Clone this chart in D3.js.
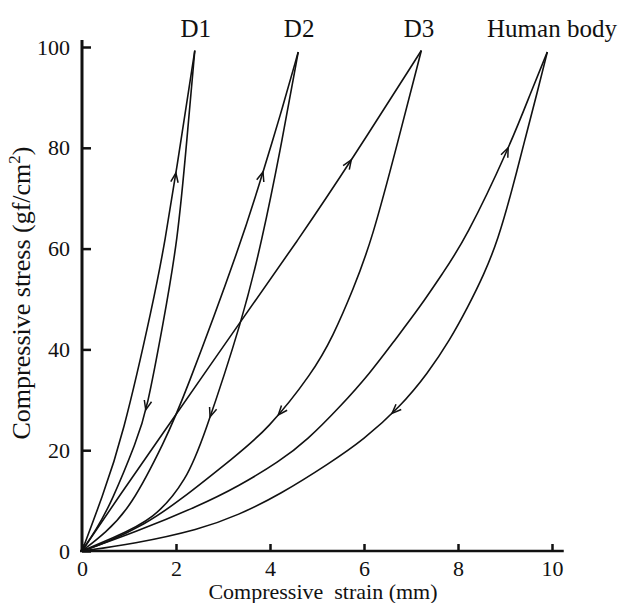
<!DOCTYPE html>
<html>
<head>
<meta charset="utf-8">
<script src="https://cdn.jsdelivr.net/npm/d3@7"></script>
<style>
  body { margin: 0; background: #fff; }
  text { font-family: "Liberation Serif", "DejaVu Serif", serif; fill: #111; }
</style>
</head>
<body>
<div id="chart"></div>
<script>
// strain (mm), stress (gf/cm2), each curve from origin to peak
var d1Load   = [[0,0],[0.43,10.7],[0.85,22],[1.53,49.8],[1.77,61.7],[2.0,75],[2.40,99.3]];
var d1Unload = [[0,0],[0.3,4.2],[0.62,9.5],[1.17,22],[1.38,28],[1.72,44.8],[2.04,61.7],[2.23,81.5],[2.40,99.3]];
var d2Load   = [[0,0],[0.5,3.6],[1.04,8.7],[1.77,22],[2.15,30],[3.41,61.7],[3.85,75.2],[4.21,86.1],[4.60,99]];
var d2Unload = [[0,0],[0.6,2.4],[1.55,6.3],[2.23,14.3],[2.57,22],[3.43,46.3],[3.83,61.7],[4.21,79],[4.60,99]];
var d3Load   = [[0,0],[0.8,11],[1.62,22],[3.43,46.3],[4.6,61.7],[5.74,77.6],[7.22,99.3]];
var d3Unload = [[0,0],[0.5,1.6],[1.34,5.3],[2.04,9.7],[3.26,18.8],[3.94,24],[4.91,35.4],[5.34,42.6],[5.77,51.9],[6.17,61.7],[6.73,81.5],[7.22,99.3]];
var humLoad  = [[0,0],[1.1,3.6],[2.5,9],[3.32,12.8],[4.21,17.8],[4.79,22],[5.49,28.6],[6.13,35.3],[6.66,41.9],[7.19,48.4],[7.68,55.2],[8.15,61.7],[9.09,80],[9.57,91.5],[9.9,99]];
var humUnload= [[0,0],[1.09,1.4],[2.51,4.3],[3.32,7.1],[4.21,11.2],[5.28,17.5],[5.98,22],[6.77,28.6],[7.36,35.3],[7.83,41.9],[8.21,48.4],[8.55,54.8],[8.85,61.7],[9.15,71.6],[9.42,81.5],[9.7,91.5],[9.9,99]];

var curves = [d1Load, d1Unload, d2Load, d2Unload, d3Load, d3Unload, humLoad, humUnload];
// stress where each arrow sits, +1 = towards peak, -1 = towards origin
var arrowAt  = [75, 28, 75.2, 26.6, 77.6, 27, 80, 27.3];
var arrowDir = [1, -1, 1, -1, 1, -1, 1, -1];

var labels = ["D1", "D2", "D3", "Human body"];
var labelX = [2.42, 4.62, 7.17, 10.0];

var xTicks = [0, 2, 4, 6, 8, 10];
var yTicks = [0, 20, 40, 60, 80, 100];

var width = 626, height = 603;

var svg = d3.select('#chart')
	.append('svg')
	.attr('width', width)
	.attr('height', height);

var x = d3.scaleLinear().domain([0, 10]).range([82, 552]);
var y = d3.scaleLinear().domain([0, 100]).range([551, 47]);

var line = d3.line()
	.x(function(d){ return x(d[0]); })
	.y(function(d){ return y(d[1]); })
	.curve(d3.curveBasis);

// axes, ticks pointing inward
var xAxis = svg.append('g')
	.attr('transform', 'translate(0,' + y(0) + ')')
	.call(d3.axisBottom(x).tickValues(xTicks).tickSizeInner(-7).tickSizeOuter(0).tickPadding(9));
var yAxis = svg.append('g')
	.attr('transform', 'translate(' + x(0) + ',0)')
	.call(d3.axisLeft(y).tickValues(yTicks).tickSizeInner(-9).tickSizeOuter(0).tickPadding(12));

[xAxis, yAxis].forEach(function(g){
	g.attr('font-family', '"Liberation Serif", serif').attr('font-size', 22);
	g.select('.domain').remove();
	g.selectAll('.tick line').attr('stroke', '#111').attr('stroke-width', 2.5);
	g.selectAll('.tick text')
		.style('font-family', '"Liberation Serif", serif')
		.style('font-size', '22px')
		.attr('fill', '#111');
});

svg.append('line')
	.attr('x1', x(0) - 2).attr('x2', x(10.25))
	.attr('y1', y(0)).attr('y2', y(0))
	.attr('stroke', '#111').attr('stroke-width', 2.5);
svg.append('line')
	.attr('x1', x(0)).attr('x2', x(0))
	.attr('y1', y(0) + 1).attr('y2', y(101.4))
	.attr('stroke', '#111').attr('stroke-width', 3);

// curves
var paths = svg.selectAll('.curve')
	.data(curves)
	.enter().append('path')
	.attr('class', 'curve')
	.attr('d', line)
	.attr('fill', 'none')
	.attr('stroke', '#111')
	.attr('stroke-width', 1.6);

// open arrowheads along each curve
paths.each(function(d, i){
	var p = this;
	var total = p.getTotalLength();
	var target = y(arrowAt[i]);
	var lo = 0, hi = total;
	for (var k = 0; k < 40; k++) {
		var mid = (lo + hi) / 2;
		if (p.getPointAtLength(mid).y > target) lo = mid; else hi = mid;
	}
	var at = (lo + hi) / 2;
	var tip = p.getPointAtLength(at);
	var back = p.getPointAtLength(Math.max(0, Math.min(total, at - arrowDir[i] * 4)));
	var ang = Math.atan2(tip.y - back.y, tip.x - back.x);
	var len = 10, spread = 0.38;
	var pts = [ang + Math.PI - spread, ang + Math.PI + spread].map(function(a){
		return [tip.x + len * Math.cos(a), tip.y + len * Math.sin(a)];
	});
	svg.append('path')
		.attr('d', 'M' + pts[0][0] + ',' + pts[0][1] + 'L' + tip.x + ',' + tip.y + 'L' + pts[1][0] + ',' + pts[1][1])
		.attr('fill', 'none')
		.attr('stroke', '#111')
		.attr('stroke-width', 1.5);
});

// curve names
svg.selectAll('.name')
	.data(labels)
	.enter().append('text')
	.attr('class', 'name')
	.attr('x', function(d, i){ return x(labelX[i]); })
	.attr('y', 37)
	.attr('text-anchor', 'middle')
	.style('font-size', '25px')
	.text(function(d){ return d; });

// axis titles
svg.append('text')
	.attr('x', 323)
	.attr('y', 599)
	.attr('text-anchor', 'middle')
	.style('font-size', '22px')
	.style('white-space', 'pre')
	.text('Compressive  strain (mm)');

var yt = svg.append('text')
	.attr('transform', 'translate(30,293) rotate(-90)')
	.attr('text-anchor', 'middle')
	.style('font-size', '26px');
yt.append('tspan').text('Compressive stress (gf/cm');
yt.append('tspan').attr('dy', -10).style('font-size', '17px').text('2');
yt.append('tspan').attr('dy', 10).text(')');
</script>
</body>
</html>
